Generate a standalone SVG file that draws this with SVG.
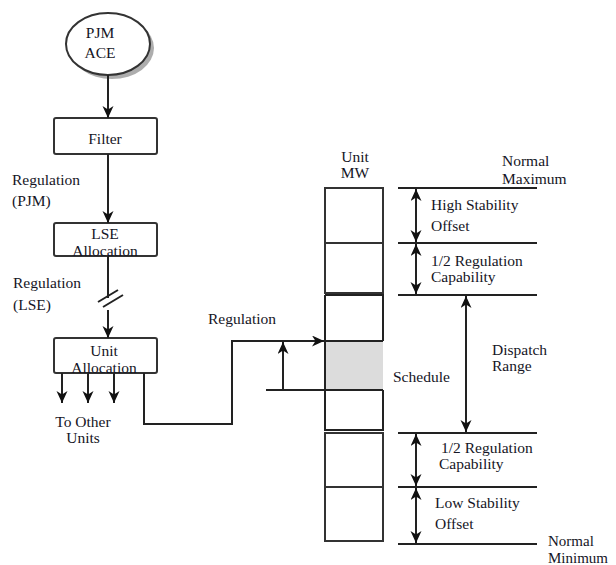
<svg xmlns="http://www.w3.org/2000/svg" width="616" height="565" viewBox="0 0 616 565">
<defs>
<marker id="ah" markerUnits="userSpaceOnUse" markerWidth="13" markerHeight="12" refX="12" refY="5.5" orient="auto-start-reverse">
<path d="M0,0 L12,5.5 L0,11 L3.5,5.5 z" fill="#111"/>
</marker>
<style>
text{font-family:"Liberation Serif","Times New Roman",serif;font-size:15.5px;fill:#151525}
.c{text-anchor:middle}
.s{font-size:15px}
.ln{stroke:#222;stroke-width:2;fill:none}
.box{stroke:#333;stroke-width:2;fill:#fff}
.ar{marker-end:url(#ah)}
.da{marker-start:url(#ah);marker-end:url(#ah)}
</style>
</defs>
<rect width="616" height="565" fill="#fff"/>

<g id="pjm-ace">
<ellipse cx="112" cy="48" rx="42" ry="31" fill="#999" opacity="0.8"/>
<ellipse cx="108" cy="44" rx="42" ry="31" class="box"/>
<text class="c" x="100" y="38">PJM</text>
<text class="c" x="100" y="58">ACE</text>
</g>

<g id="filter">
<rect x="54" y="118" width="103" height="36" rx="2" class="box"/>
<text class="c" x="105" y="144">Filter</text>
</g>

<g id="lse-allocation">
<rect x="54" y="223" width="103" height="33" rx="2" class="box"/>
<text class="c" x="105" y="239">LSE</text>
<text class="c" x="105" y="256">Allocation</text>
</g>

<g id="unit-allocation">
<rect x="54" y="338" width="103" height="35" rx="2" class="box"/>
<text class="c" x="104" y="356">Unit</text>
<text class="c" x="104" y="373">Allocation</text>
</g>

<g id="unit-mw-bar">
<path d="M325,188 H383 V293 H325 Z M325,243 H383" class="box"/>
<rect x="325" y="341" width="58" height="49" fill="#dcdcdc"/>
<path d="M325,295 V430 H383 V390 M383,341 V295 H325 M325,341 H383 M325,390 H383" class="ln"/>
<path d="M325,433 H383 V541 H325 Z M325,487 H383" class="box"/>
</g>

<g id="levels">
<path d="M398,188 H537 M398,243 H537 M398,295 H537 M398,433 H537 M398,487 H537 M398,544 H537" class="ln"/>
</g>

<g id="labels">
<text x="12" y="185">Regulation</text>
<text x="12" y="206">(PJM)</text>
<text x="13" y="288">Regulation</text>
<text x="13" y="310">(LSE)</text>
<text class="c" x="83" y="427">To Other</text>
<text class="c" x="83" y="443">Units</text>
<text x="208" y="324">Regulation</text>
<text class="c" x="355" y="162">Unit</text>
<text class="c" x="355" y="178">MW</text>
<text x="502" y="166">Normal</text>
<text x="502" y="184">Maximum</text>
<text x="431" y="210">High Stability</text>
<text x="431" y="231">Offset</text>
<text x="431" y="266">1/2 Regulation</text>
<text x="431" y="282">Capability</text>
<text x="492" y="355">Dispatch</text>
<text x="492" y="371">Range</text>
<text x="393" y="382">Schedule</text>
<text x="441" y="453">1/2 Regulation</text>
<text x="439" y="469">Capability</text>
<text x="435" y="508">Low Stability</text>
<text x="435" y="529">Offset</text>
<text class="s" x="548" y="546">Normal</text>
<text class="s" x="548" y="563">Minimum</text>
</g>

<g id="connectors">
<path d="M108,75 V118" class="ln ar"/>
<path d="M108,154 V223" class="ln ar"/>
<path d="M108,256 V298" class="ln"/>
<path d="M98,302 L118,290 M103,307 L123,295" class="ln"/>
<path d="M108,310 V338" class="ln ar"/>
<path d="M62,373 V403" class="ln ar"/>
<path d="M88,373 V403" class="ln ar"/>
<path d="M114,373 V403" class="ln ar"/>
<path d="M144,373 V424 H232 V341 H324" class="ln ar"/>
<path d="M266,390 H325" class="ln"/>
<path d="M283,390 V342" class="ln ar"/>
<path d="M416,189 V242" class="ln da"/>
<path d="M416,244 V294" class="ln da"/>
<path d="M466,296 V432" class="ln da"/>
<path d="M416,434 V486" class="ln da"/>
<path d="M416,488 V543" class="ln da"/>
</g>
</svg>
